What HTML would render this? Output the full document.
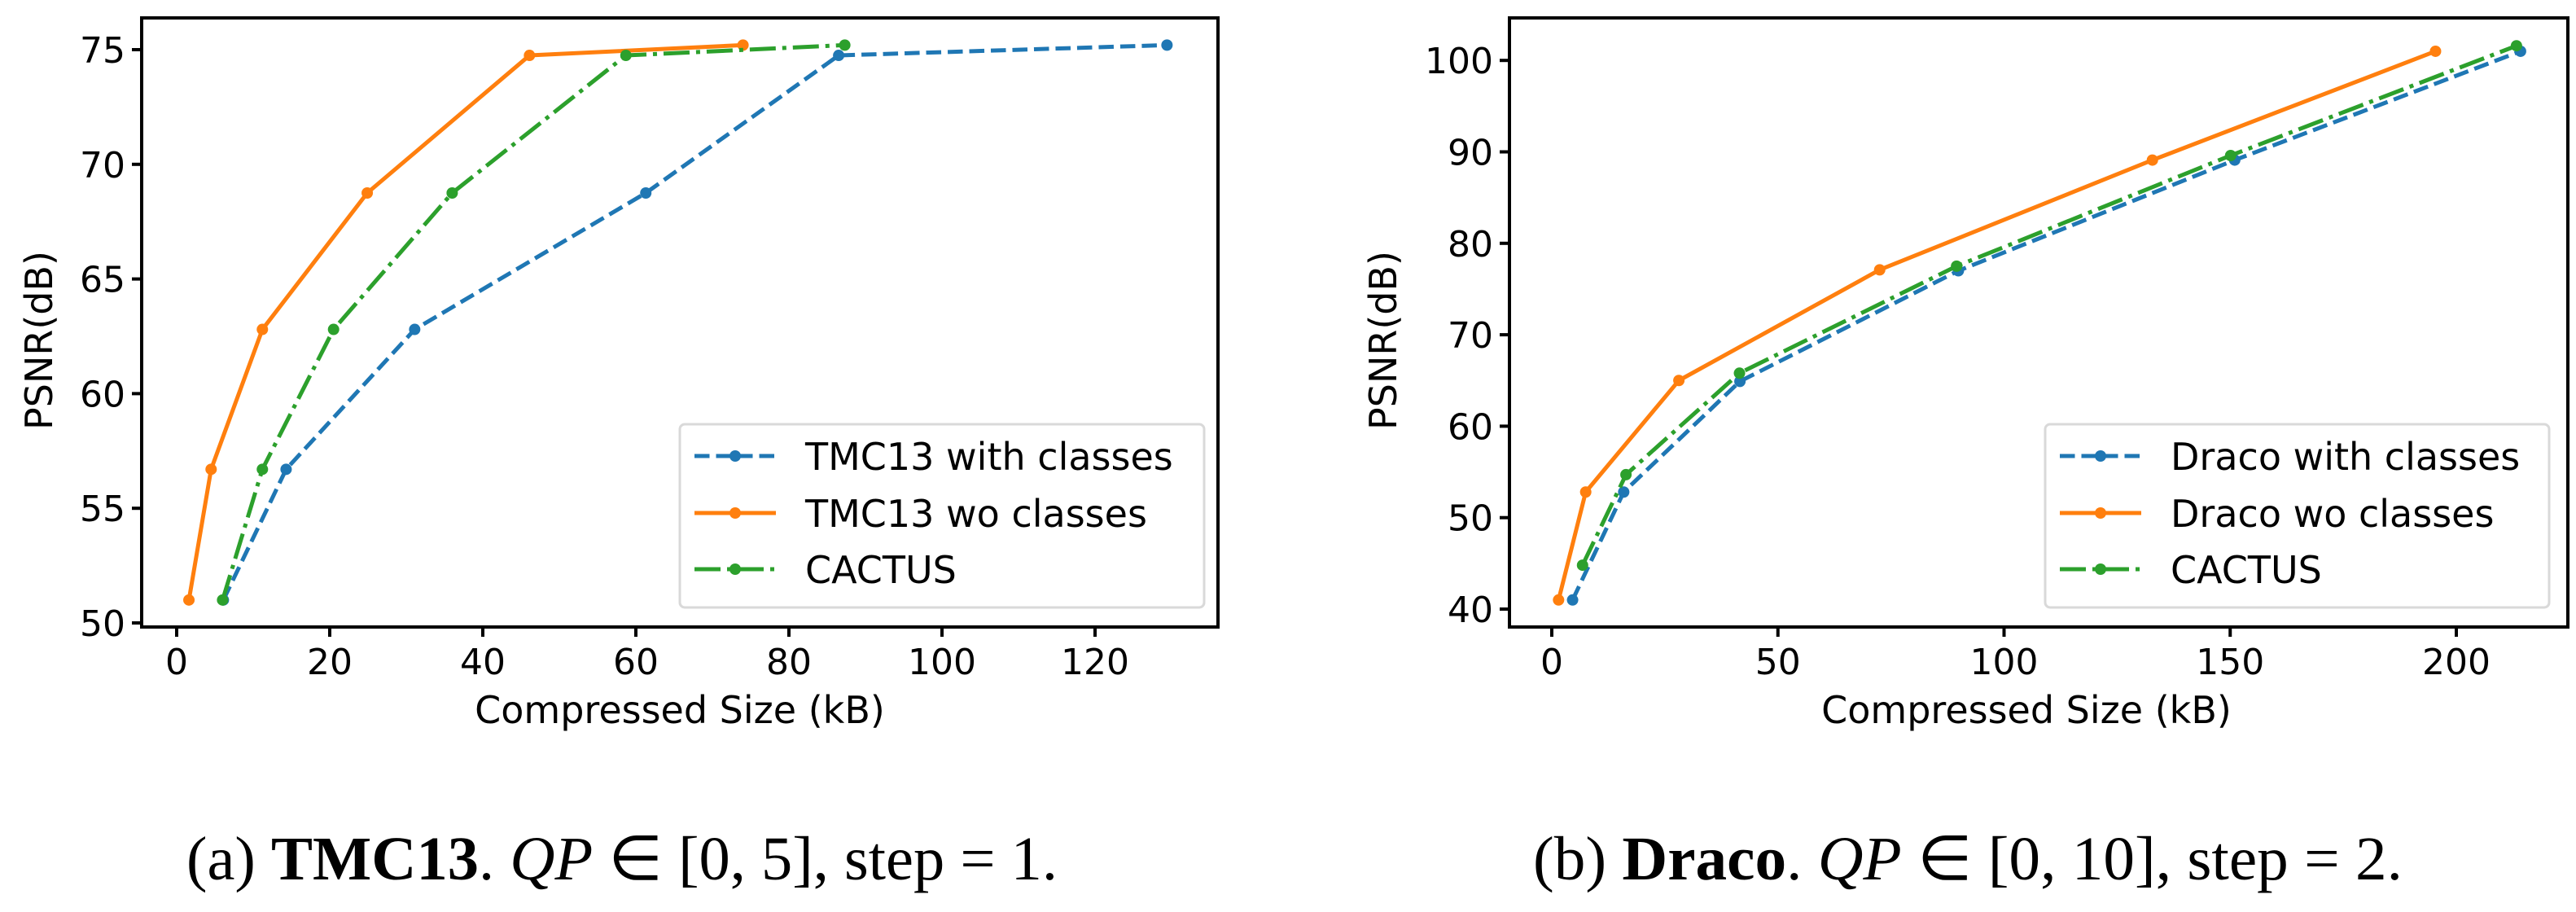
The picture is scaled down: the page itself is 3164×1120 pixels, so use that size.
<!DOCTYPE html>
<html><head><meta charset="utf-8">
<style>
html,body{margin:0;padding:0;background:#fff;}
svg{display:block;}
</style></head>
<body>
<svg id="fig" width="3164" height="1120" viewBox="0 0 3164 1120" xmlns="http://www.w3.org/2000/svg"></svg>
<script>
// ---- Panel A data (TMC13) ----
const aXTicks = [0, 20, 40, 60, 80, 100, 120];
const aYTicks = [50, 55, 60, 65, 70, 75];
const aWithX = [6.1, 14.3, 31.1, 61.3, 86.5, 129.4];
const aWithY = [51.0, 56.7, 62.8, 68.75, 74.75, 75.2];
const aWoX = [1.6, 4.5, 11.2, 24.9, 46.1, 74.0];
const aWoY = [51.0, 56.7, 62.8, 68.75, 74.75, 75.2];
const aCacX = [6.0, 11.2, 20.5, 36.0, 58.7, 87.3];
const aCacY = [51.0, 56.7, 62.8, 68.75, 74.75, 75.2];
const aLabels = ["TMC13 with classes", "TMC13 wo classes", "CACTUS"];
// ---- Panel B data (Draco) ----
const bXTicks = [0, 50, 100, 150, 200];
const bYTicks = [40, 50, 60, 70, 80, 90, 100];
const bWithX = [4.6, 15.9, 41.6, 89.9, 151.0, 214.2];
const bWithY = [41.0, 52.8, 64.9, 77.0, 89.1, 101.0];
const bWoX = [1.5, 7.5, 28.1, 72.5, 132.8, 195.4];
const bWoY = [41.0, 52.8, 65.0, 77.1, 89.1, 101.0];
const bCacX = [6.8, 16.4, 41.5, 89.5, 150.1, 213.3];
const bCacY = [44.8, 54.7, 65.8, 77.5, 89.6, 101.6];
const bLabels = ["Draco with classes", "Draco wo classes", "CACTUS"];

const NS = "http://www.w3.org/2000/svg";
const svg = document.getElementById('fig');
function mk(tag, attrs, parent){
  const e = document.createElementNS(NS, tag);
  for (const k in attrs) e.setAttribute(k, attrs[k]);
  (parent||svg).appendChild(e);
  return e;
}
const COLORS = ["#1f77b4", "#ff7f0e", "#2ca02c"];
const DASH = ["18.5,8", "none", "32,8,5,8"];
const FONT = '"DejaVu Sans", "Liberation Sans", sans-serif';

function panel(cfg){
  const g = mk('g', {});
  
  
  const sx = v => cfg.x0px + (v - cfg.x0v) * cfg.xs;
  const sy = v => cfg.y0px - (v - cfg.y0v) * cfg.ys;
  cfg.series.forEach((s, i) => {
    const pts = s.x.map((xv, j) => sx(xv) + ',' + sy(s.y[j])).join(' ');
    const pl = mk('polyline', {points: pts, fill: 'none', stroke: COLORS[i], 'stroke-width': 5, 'stroke-dasharray': DASH[i], 'stroke-linejoin': 'round'}, g);
    
    
    s.x.forEach((xv, j) => {
      const c = mk('circle', {cx: sx(xv), cy: sy(s.y[j]), r: 7, fill: COLORS[i]}, g);
      
      
    });
  });
  const fr = mk('rect', {x: cfg.L, y: cfg.T, width: cfg.R - cfg.L, height: cfg.B - cfg.T, fill: 'none', stroke: '#000', 'stroke-width': 4}, g);
  
  
  cfg.xticks.forEach(t => {
    const x = sx(t);
    mk('line', {x1: x, y1: cfg.B, x2: x, y2: cfg.B + 12, stroke: '#000', 'stroke-width': 4}, g);
    const tx = mk('text', {x: x, y: cfg.B + 58, 'text-anchor': 'middle', 'font-size': 44, 'font-family': FONT}, g);
    
    
    tx.textContent = t;
  });
  cfg.yticks.forEach(t => {
    const y = sy(t);
    mk('line', {x1: cfg.L - 12, y1: y, x2: cfg.L, y2: y, stroke: '#000', 'stroke-width': 4}, g);
    const ty = mk('text', {x: cfg.L - 20, y: y + 16, 'text-anchor': 'end', 'font-size': 44, 'font-family': FONT}, g);
    
    
    ty.textContent = t;
  });
  const xl = mk('text', {x: (cfg.L + cfg.R)/2 + cfg.xlabOff, y: cfg.B + 118, 'text-anchor': 'middle', 'font-size': 46, 'font-family': FONT}, g);
  
  
  xl.textContent = 'Compressed Size (kB)';
  const yl = mk('text', {x: 0, y: 0, 'text-anchor': 'middle', 'font-size': 46, 'font-family': FONT, transform: 'translate(' + cfg.ylabX + ',418) rotate(-90)'}, g);
  
  
  yl.textContent = 'PSNR(dB)';
  const lg = mk('g', {}, g);
  
  
  mk('rect', {x: cfg.lgL, y: 521, width: cfg.lgR - cfg.lgL, height: 225, rx: 6, fill: '#fff', 'fill-opacity': 0.8, stroke: '#d9d9d9', 'stroke-width': 3}, lg);
  const rows = [560, 630, 699];
  cfg.labels.forEach((lab, i) => {
    const ent = mk('g', {}, lg);
    
    
    mk('line', {x1: cfg.lgL + 18, y1: rows[i], x2: cfg.lgL + 118, y2: rows[i], stroke: COLORS[i], 'stroke-width': 5, 'stroke-dasharray': DASH[i]}, ent);
    mk('circle', {cx: cfg.lgL + 68, cy: rows[i], r: 7, fill: COLORS[i]}, ent);
    const t = mk('text', {x: cfg.lgL + 154, y: rows[i] + 17, 'font-size': 46, 'font-family': FONT}, ent);
    t.textContent = lab;
  });
  const cap = mk('text', {x: cfg.capL, y: 1080, 'font-size': 76, 'font-family': '"Liberation Serif", serif', textLength: cfg.capW, lengthAdjust: 'spacingAndGlyphs'}, g);
  
  
  cap.innerHTML = cfg.caption;
}

panel({name: 'panel-tmc13', L: 174, R: 1496, T: 22, B: 770,
  x0px: 217, x0v: 0, xs: 9.4, y0px: 765, y0v: 50, ys: 28.16,
  xticks: aXTicks, yticks: aYTicks, xlabOff: 0, ylabX: 64,
  series: [{x: aWithX, y: aWithY}, {x: aWoX, y: aWoY}, {x: aCacX, y: aCacY}],
  labels: aLabels, lgL: 835, lgR: 1479, capL: 229, capW: 1070,
  caption: '(a) <tspan font-weight="bold">TMC13</tspan>. <tspan font-style="italic">QP</tspan> ∈ [0, 5], step = 1.'});
panel({name: 'panel-draco', L: 1854, R: 3154, T: 22, B: 770,
  x0px: 1906, x0v: 0, xs: 5.555, y0px: 748, y0v: 40, ys: 11.23,
  xticks: bXTicks, yticks: bYTicks, xlabOff: -15, ylabX: 1715,
  series: [{x: bWithX, y: bWithY}, {x: bWoX, y: bWoY}, {x: bCacX, y: bCacY}],
  labels: bLabels, lgL: 2512, lgR: 3131, capL: 1883, capW: 1068,
  caption: '(b) <tspan font-weight="bold">Draco</tspan>. <tspan font-style="italic">QP</tspan> ∈ [0, 10], step = 2.'});
</script>
</body></html>
